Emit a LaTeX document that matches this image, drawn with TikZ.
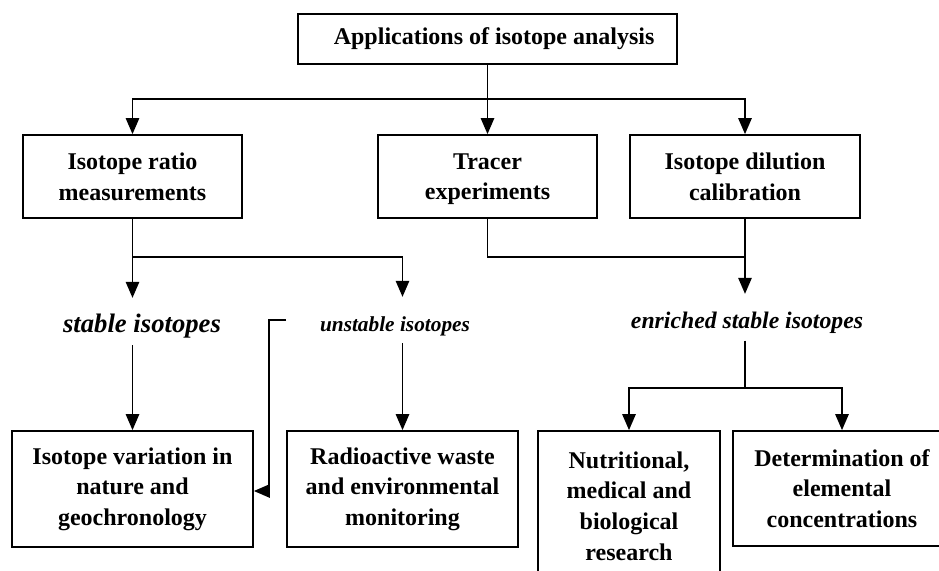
\documentclass[tikz,border=0pt]{standalone}
\usepackage{fontspec}
\setmainfont{Liberation Serif}
\usetikzlibrary{arrows.meta,positioning,calc}
\tikzset{
    box/.style={draw, line width=1.3pt, align=center, inner sep=0pt, font=\fontsize{18}{23}\selectfont\bfseries},
    tag/.style={anchor=base, inner xsep=0pt, inner ysep=5.4pt, text height=20pt, font=\bfseries\itshape},
    flow/.style={-{Triangle[length=12pt, width=10pt]}, line width=1.3pt},
    link/.style={line width=1.3pt}
}

\begin{document}
\begin{tikzpicture}[x=0.75pt, y=-0.75pt]
    \useasboundingbox (0,0) rectangle (939,571);
    \clip (0,0) rectangle (939,571);

    % boxes
    \node[box, minimum width=379*0.75pt, minimum height=50*0.75pt] (apps) at (487.5,39) {\hskip 10pt Applications of isotope analysis};
    \node[box, minimum width=219*0.75pt, minimum height=83*0.75pt] (ratio) at (132.5,176.5) {Isotope ratio\\measurements};
    \node[box, minimum width=219*0.75pt, minimum height=83*0.75pt] (tracer) at (487.5,176.5) {Tracer\\\smash{experiments}};
    \node[box, minimum width=230*0.75pt, minimum height=83*0.75pt] (dilution) at (745,176.5) {Isotope dilution\\calibration};
    \node[box, minimum width=241*0.75pt, minimum height=116*0.75pt] (variation) at (132.5,489) {Isotope variation in\\nature and\\geochronology};
    \node[box, minimum width=231*0.75pt, minimum height=116*0.75pt] (radio) at (402.5,489) {Radioactive waste\\and environmental\\monitoring};
    \node[box, minimum width=182*0.75pt, minimum height=150*0.75pt] (nutri) at (629,506) {Nutritional,\\medical and\\biological\\research};
    \node[box, minimum width=218*0.75pt, minimum height=115*0.75pt] (determ) at (842,488.5) {Determination of\\elemental\\concentrations};

    % isotope kinds
    \node[tag, font=\fontsize{20}{24}\selectfont\bfseries\itshape] (stable) at (142,332) {stable isotopes};
    \node[tag, font=\fontsize{16}{20}\selectfont\bfseries\itshape] (unstable) at (395,331) {unstable isotopes};
    \node[tag, font=\fontsize{17.8}{22}\selectfont\bfseries\itshape] (enriched) at (747,328) {enriched stable isotopes};

    % junctions
    \coordinate (j1) at (487.5,99);
    \coordinate (j2) at (132.5,257);
    \coordinate (j3) at (745,257);
    \coordinate (j4) at (745,388);
    \coordinate (bend) at (269,491);

    % connectors
    \draw[link] (apps) -- (j1);
    \draw[flow] (j1) -| (ratio);
    \draw[flow] (j1) -- (tracer);
    \draw[flow] (j1) -| (dilution);

    \draw[flow] (ratio.south) -- (ratio.south |- stable.north);
    \draw[flow] (j2) -| (radio.north |- unstable.north);
    \draw[link] (tracer.south) |- (j3);
    \draw[flow] (dilution.south) -- (dilution.south |- enriched.north);

    \draw[flow] (variation.north |- stable.south) -- (variation);
    \draw[flow] (radio.north |- unstable.south) -- (radio);
    \draw[flow] (radio.west |- unstable.west) -| (bend) -- (bend -| variation.east);

    \draw[link] (enriched.south -| j4) -- (j4);
    \draw[flow] (j4) -| (nutri);
    \draw[flow] (j4) -| (determ);
\end{tikzpicture}
\end{document}
